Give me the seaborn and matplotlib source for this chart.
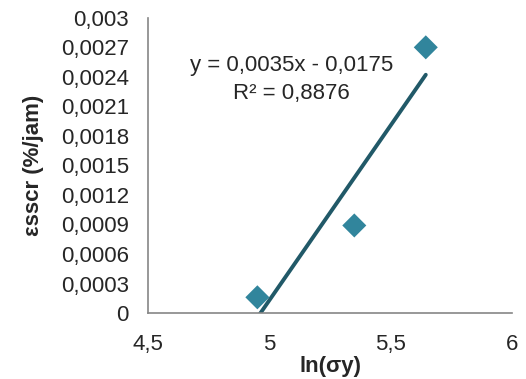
import numpy as np
import pandas as pd
import matplotlib
matplotlib.use("Agg")
import matplotlib.pyplot as plt
import seaborn as sns
from matplotlib.ticker import FuncFormatter

# data
ln_sy = [4.95, 5.35, 5.645]
eps_sscr = [0.00016, 0.00089, 0.0027]
x_ticks = [4.5, 5.0, 5.5, 6.0]
y_ticks = [0, 0.0003, 0.0006, 0.0009, 0.0012, 0.0015, 0.0018, 0.0021, 0.0024, 0.0027, 0.003]

df = pd.DataFrame({"x": ln_sy, "y": eps_sscr})

sns.set_style("white")
plt.rcParams["font.family"] = ["Liberation Sans", "DejaVu Sans"]

fig, ax = plt.subplots(figsize=(5.26, 3.79), dpi=100)

sns.scatterplot(data=df, x="x", y="y", marker="D", s=150, color="#31859C",
                edgecolor="none", ax=ax, zorder=3)

# linear trendline
slope, intercept = np.polyfit(df["x"], df["y"], 1)
xs = np.array([min(ln_sy), max(ln_sy)])
sns.lineplot(x=xs, y=slope * xs + intercept, color="#215968", linewidth=2.8, ax=ax)

ax.set_xlim(4.5, 6.0)
ax.set_ylim(0, 0.003)
ax.set_xticks(x_ticks)
ax.set_yticks(y_ticks)

def comma(v, pos):
    s = ("%.4f" % v).rstrip("0").rstrip(".")
    return s.replace(".", ",")

ax.xaxis.set_major_formatter(FuncFormatter(comma))
ax.yaxis.set_major_formatter(FuncFormatter(comma))
ax.tick_params(axis="both", length=0, labelsize=16)
ax.tick_params(axis="y", pad=14)
ax.tick_params(axis="x", pad=15)

for side in ["top", "right"]:
    ax.spines[side].set_visible(False)
for side in ["left", "bottom"]:
    ax.spines[side].set_color("#868686")
    ax.spines[side].set_linewidth(1.2)

ax.set_xlabel("ln(σy)", fontsize=16, fontweight="bold", labelpad=1)
ax.set_ylabel("εsscr (%/jam)", fontsize=16, fontweight="bold", labelpad=12)

ax.text(5.09, 0.00252, "y = 0,0035x - 0,0175", fontsize=16, ha="center", va="center")
ax.text(5.09, 0.002235, "R² = 0,8876", fontsize=16, ha="center", va="center")

plt.subplots_adjust(left=0.282, right=0.973, bottom=0.174, top=0.953)
plt.savefig("out.png", dpi=100)
